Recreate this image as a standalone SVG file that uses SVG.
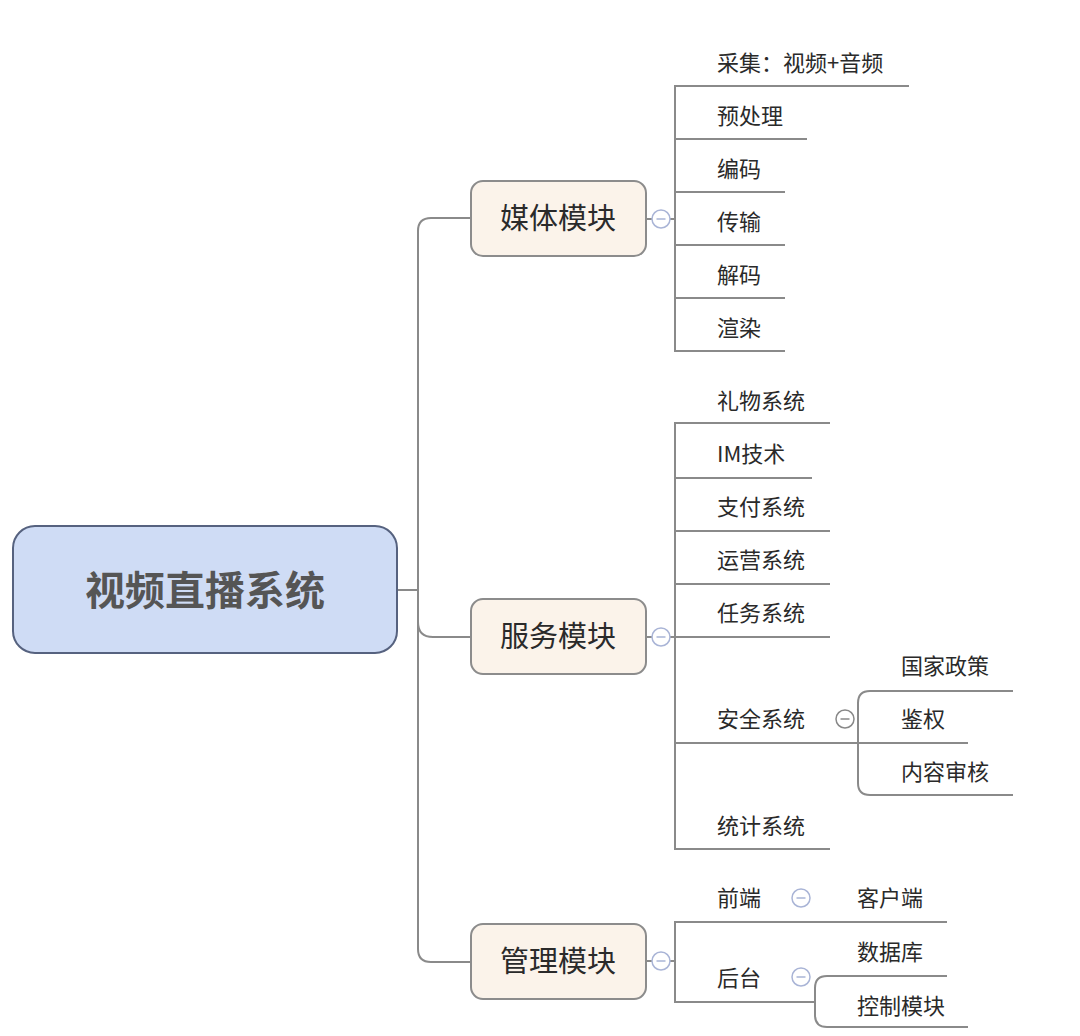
<svg xmlns="http://www.w3.org/2000/svg" width="1080" height="1036" viewBox="0 0 1080 1036">
<style>
.ln{fill:none;stroke:#8a8a8a;stroke-width:2}
.box{fill:#fbf3ea;stroke:#8c8c8c;stroke-width:2}
.root{fill:#cfdcf5;stroke:#56627f;stroke-width:2}
.t{font-family:"Noto Sans CJK SC","Noto Sans",sans-serif;fill:#2a2a2a;font-size:22px}
.bt{font-family:"Noto Sans CJK SC","Noto Sans",sans-serif;fill:#2a2a2a;font-size:29px;text-anchor:middle}
.rt{font-family:"Noto Sans CJK SC","Noto Sans",sans-serif;fill:#555;font-size:40px;font-weight:bold;text-anchor:middle}
.cb{fill:#fff;stroke:#a9b4d6;stroke-width:1.5}
.cm{stroke:#a9b4d6;stroke-width:1.5}
</style>
<defs>
<g id="col"><circle class="cb" r="9"/><line class="cm" x1="-4.5" y1="0" x2="4.5" y2="0"/></g>
</defs>
<g id="connectors">
<path class="ln" d="M397 590 L418 590"/>
<path class="ln" d="M471 218 L431 218 Q418 218 418 231 L418 949 Q418 962 431 962 L471 962"/>
<path class="ln" d="M418 622 Q418 637 433 637 L471 637"/>
<path class="ln" d="M646 219 L652 219 M670 219 L675 219"/>
<path class="ln" d="M909 86 L675 86 L675 351 L785 351"/>
<path class="ln" d="M675 139 L807 139 M675 192 L785 192 M675 245 L785 245 M675 298 L785 298"/>
<path class="ln" d="M646 637 L652 637 M670 637 L675 637"/>
<path class="ln" d="M830 423 L675 423 L675 849 L830 849"/>
<path class="ln" d="M675 478 L812 478 M675 531 L830 531 M675 584 L830 584 M675 637 L830 637 M675 743 L968 743"/>
<path class="ln" d="M1013 691 L870 691 Q858 691 858 703 L858 783 Q858 795 870 795 L1013 795"/>
<path class="ln" d="M646 961 L652 961 M670 961 L675 961"/>
<path class="ln" d="M947 922 L675 922 L675 1002 L815 1002"/>
<path class="ln" d="M947 976 L827 976 Q815 976 815 988 L815 1015 Q815 1027 827 1027 L968 1027"/>
</g>
<g id="root"><rect class="root" x="13" y="526" width="384" height="127" rx="22"/><text class="rt" x="205" y="605">视频直播系统</text></g>
<g id="media"><rect class="box" x="471" y="181" width="175" height="75" rx="12"/><text class="bt" x="558" y="229">媒体模块</text><use href="#col" x="661" y="219"/></g>
<g id="service"><rect class="box" x="471" y="599" width="175" height="75" rx="12"/><text class="bt" x="558" y="647">服务模块</text><use href="#col" x="661" y="637"/></g>
<g id="manage"><rect class="box" x="471" y="924" width="175" height="75" rx="12"/><text class="bt" x="558" y="972">管理模块</text><use href="#col" x="661" y="961"/></g>
<g id="media-children">
<text class="t" x="717" y="71">采集：视频+音频</text>
<text class="t" x="717" y="124">预处理</text>
<text class="t" x="717" y="177">编码</text>
<text class="t" x="717" y="230">传输</text>
<text class="t" x="717" y="283">解码</text>
<text class="t" x="717" y="336">渲染</text>
</g>
<g id="service-children">
<text class="t" x="717" y="409">礼物系统</text>
<text class="t" x="717" y="462">IM技术</text>
<text class="t" x="717" y="515">支付系统</text>
<text class="t" x="717" y="568">运营系统</text>
<text class="t" x="717" y="621">任务系统</text>
<text class="t" x="717" y="727">安全系统</text>
<g id="safety-toggle"><circle cx="845" cy="719" r="9" fill="#fff" stroke="#888" stroke-width="1.5"/><line x1="840.5" y1="719" x2="849.5" y2="719" stroke="#888" stroke-width="1.5"/></g>
<text class="t" x="717" y="834">统计系统</text>
</g>
<g id="safety-children">
<text class="t" x="901" y="674">国家政策</text>
<text class="t" x="901" y="727">鉴权</text>
<text class="t" x="901" y="780">内容审核</text>
</g>
<g id="manage-children">
<text class="t" x="717" y="906">前端</text>
<use href="#col" x="801" y="898"/>
<text class="t" x="857" y="906">客户端</text>
<text class="t" x="717" y="986">后台</text>
<use href="#col" x="801" y="977"/>
<text class="t" x="857" y="960">数据库</text>
<text class="t" x="857" y="1014">控制模块</text>
</g>
</svg>
